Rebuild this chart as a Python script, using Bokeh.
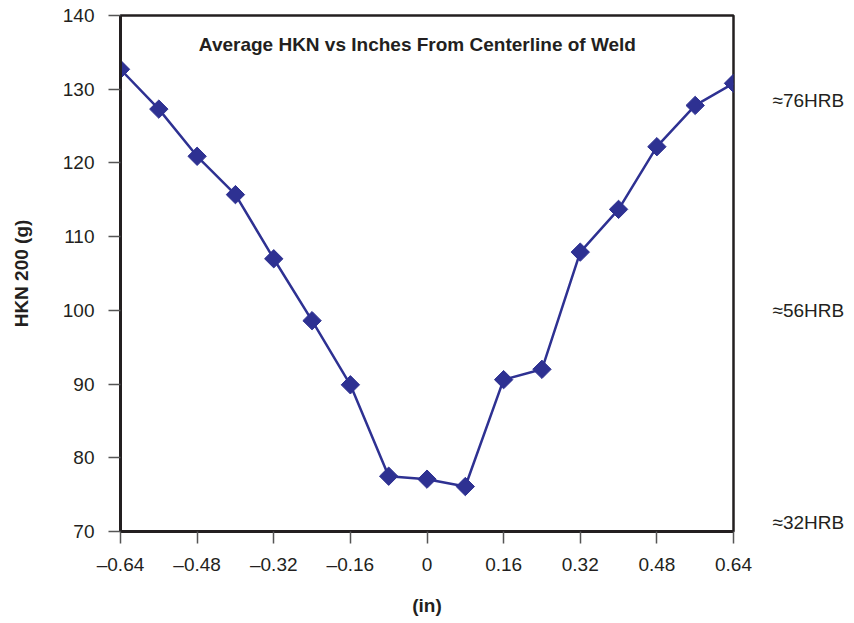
import math
from bokeh.plotting import figure
from bokeh.models import LinearAxis, FixedTicker, Label, Range1d
from bokeh.embed import file_html
from bokeh.resources import INLINE

# ---- data ----
inches = [-0.64, -0.56, -0.48, -0.40, -0.32, -0.24, -0.16, -0.08, 0.0,
          0.08, 0.16, 0.24, 0.32, 0.40, 0.48, 0.56, 0.64]
hkn = [132.7, 127.3, 120.9, 115.7, 107.0, 98.6, 89.9, 77.5, 77.1,
       76.1, 90.6, 92.0, 107.9, 113.7, 122.2, 127.8, 130.8]

x_ticks = [-0.64, -0.48, -0.32, -0.16, 0.0, 0.16, 0.32, 0.48, 0.64]
x_tick_labels = ["\u20130.64", "\u20130.48", "\u20130.32", "\u20130.16", "0",
                 "0.16", "0.32", "0.48", "0.64"]
y_ticks = [70, 80, 90, 100, 110, 120, 130, 140]
hrb_positions = [128.5, 100.0, 71.2]
hrb_labels = ["\u224876HRB", "\u224856HRB", "\u224832HRB"]

title_text = "Average HKN vs Inches From Centerline of Weld"
y_label = "HKN 200 (g)"
x_label = "(in)"

FONT = "Liberation Sans"
BLUE = "#2e3192"
TXT = "#231f20"

p = figure(width=854, height=623, output_backend="svg", toolbar_location=None,
           x_range=Range1d(-0.64, 0.64), y_range=Range1d(70, 140),
           min_border_left=120, min_border_right=121,
           min_border_top=15, min_border_bottom=92)
p.xgrid.visible = False
p.ygrid.visible = False
p.outline_line_color = "#231f20"
p.outline_line_width = 2.5
p.outline_line_alpha = 1.0
p.background_fill_color = "white"
p.border_fill_color = "white"

p.line(inches, hkn, line_color=BLUE, line_width=2.5)
p.scatter(inches, hkn, marker="square", angle=math.pi / 4, size=13,
          fill_color=BLUE, line_color=BLUE)

# axes styling
for ax in (p.xaxis[0], p.yaxis[0]):
    ax.axis_line_color = "#231f20"
    ax.axis_line_width = 3
    ax.major_tick_line_color = "#555555"
    ax.major_tick_line_width = 1.5
    ax.major_tick_out = 12
    ax.major_tick_in = 0
    ax.minor_tick_line_color = None
    ax.major_label_text_font = FONT
    ax.major_label_text_font_size = "19px"
    ax.major_label_text_color = TXT
    ax.axis_label_text_font = FONT
    ax.axis_label_text_font_style = "bold"
    ax.axis_label_text_font_size = "19px"
    ax.axis_label_text_color = TXT

p.xaxis[0].ticker = FixedTicker(ticks=x_ticks)
p.xaxis[0].major_label_overrides = {t: l for t, l in zip(x_ticks, x_tick_labels)}
p.xaxis[0].major_label_standoff = 10
p.xaxis[0].axis_label = x_label
p.xaxis[0].axis_label_standoff = 17

p.yaxis[0].ticker = FixedTicker(ticks=y_ticks)
p.yaxis[0].major_label_standoff = 14
p.yaxis[0].axis_label = y_label
p.yaxis[0].axis_label_standoff = 28

# right-side HRB equivalents
r_ax = LinearAxis(ticker=FixedTicker(ticks=hrb_positions),
                  major_label_overrides={t: l for t, l in zip(hrb_positions, hrb_labels)})
r_ax.axis_line_color = None
r_ax.major_tick_line_color = None
r_ax.minor_tick_line_color = None
r_ax.major_tick_out = 0
r_ax.major_tick_in = 0
r_ax.major_label_standoff = 39
r_ax.major_label_text_font = FONT
r_ax.major_label_text_font_size = "19px"
r_ax.major_label_text_color = TXT
p.add_layout(r_ax, "right")

# title inside plot area
p.add_layout(Label(x=-0.02, y=136.1, text=title_text, text_align="center",
                   text_baseline="middle", text_font=FONT,
                   text_font_style="bold", text_font_size="19px",
                   text_color=TXT))

open("out.html", "w").write(file_html(p, INLINE))
